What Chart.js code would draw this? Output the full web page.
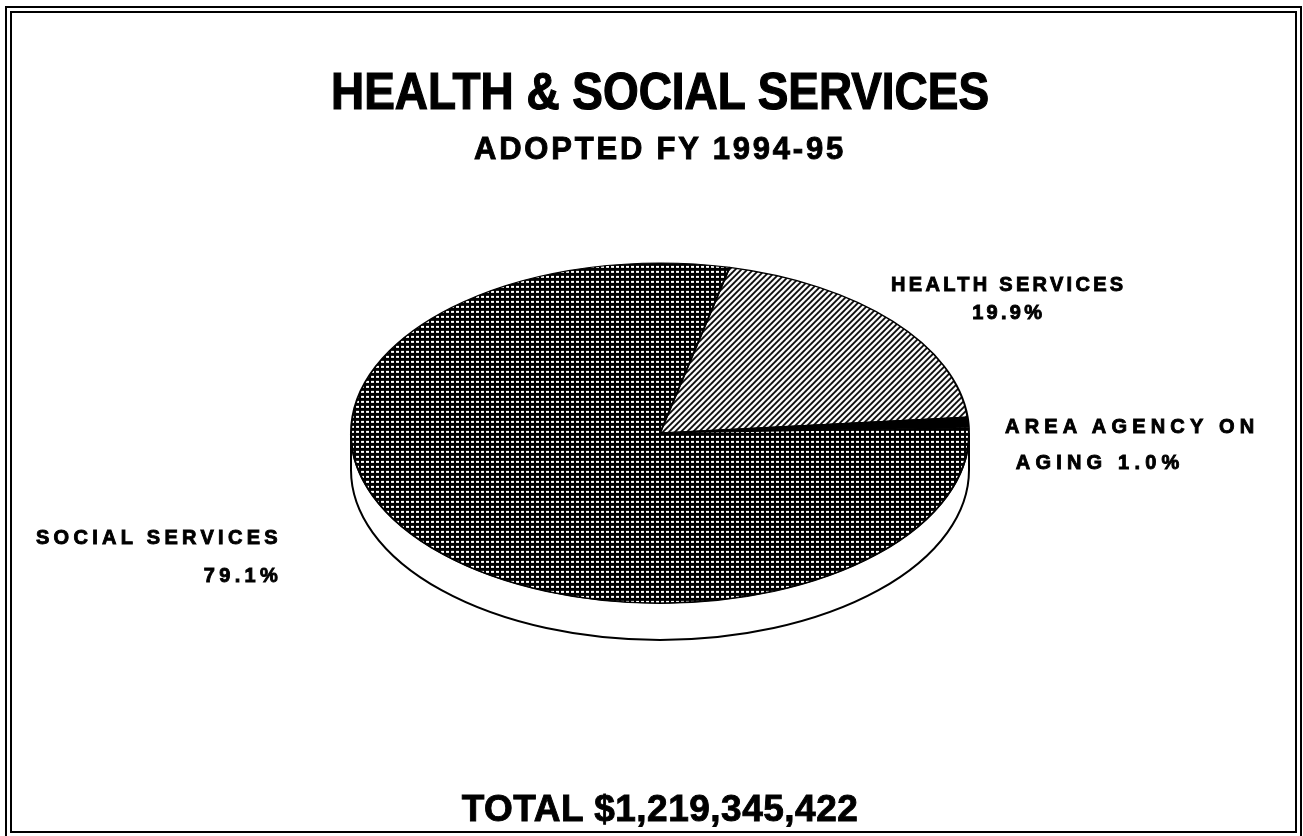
<!DOCTYPE html>
<html>
<head>
<meta charset="utf-8">
<script src="https://cdn.jsdelivr.net/npm/chart.js@4.4.1/dist/chart.umd.min.js"></script>
<style>
  body { margin: 0; background: #fff; }
  #wrap { position: relative; width: 1303px; height: 836px; overflow: hidden;
          font-family: 'Liberation Sans', Arial, sans-serif; font-weight: bold; color: #000; }
  #pie { position: absolute; left: 0; top: 0; }
  #frame { position: absolute; left: 5px; top: 6px; width: 1283px; height: 818px;
           border: 7px double #000; }
  .txt { position: absolute; white-space: nowrap; line-height: 1; -webkit-text-stroke: 0.9px #000; }
  .center { left: 0; width: 1320px; text-align: center; }
  .lbl { font-size: 20px; letter-spacing: 3.3px; }
</style>
</head>
<body>
<div id="wrap">
  <canvas id="pie" width="1303" height="836"></canvas>
  <div id="frame"></div>
  <div class="txt center" id="title" style="top:66px;font-size:51px;transform:scaleX(0.9);-webkit-text-stroke:1.2px #000;">HEALTH &amp; SOCIAL SERVICES</div>
  <div class="txt center" id="subtitle" style="top:133px;font-size:31px;letter-spacing:2.8px;">ADOPTED FY 1994-95</div>
  <div class="txt center" id="total" style="top:790px;font-size:37px;letter-spacing:0.5px;"></div>
  <div class="txt lbl" id="lblHealth" style="left:891px;top:270px;text-align:center;line-height:28px;"></div>
  <div class="txt lbl" id="lblAging" style="left:1005px;top:408px;line-height:36px;letter-spacing:5.2px;"></div>
  <div class="txt lbl" id="lblSocial" style="right:1021px;top:518px;text-align:right;line-height:38px;letter-spacing:4.3px;"></div>
</div>
<script>
// ---- data ----
const categories = ['HEALTH SERVICES', 'AREA AGENCY ON AGING', 'SOCIAL SERVICES'];
const shares = [19.9, 1.0, 79.1];
const totalAmount = 1219345422;

// ---- fill patterns ----
function makeTile(size, draw) {
  const c = document.createElement('canvas');
  c.width = size; c.height = size;
  const g = c.getContext('2d');
  draw(g, size);
  return c;
}

const gridTile = makeTile(5, (g, s) => {
  g.fillStyle = '#000';
  g.fillRect(0, 0, s, s);
  g.fillStyle = '#fff';
  g.fillRect(1, 1, 3, 2);
});

const hatchTile = makeTile(6, (g, s) => {
  g.fillStyle = '#fff';
  g.fillRect(0, 0, s, s);
  g.strokeStyle = '#000';
  g.lineWidth = 1.8;
  g.beginPath();
  g.moveTo(-1, s + 1); g.lineTo(s + 1, -1);
  g.moveTo(-1, 1); g.lineTo(1, -1);
  g.moveTo(s - 1, s + 1); g.lineTo(s + 1, s - 1);
  g.stroke();
});

const ctx = document.getElementById('pie').getContext('2d');
const gridPattern = ctx.createPattern(gridTile, 'repeat');
const hatchPattern = ctx.createPattern(hatchTile, 'repeat');

// ---- 3D ellipse effect: squash the pie vertically and draw a side wall ----
const tilt = 0.55;     // ry / rx
const depth = 37;      // wall height in px

const ellipsePie = {
  id: 'ellipsePie',
  beforeDatasetsDraw(chart) {
    const arc = chart.getDatasetMeta(0).data[0];
    if (!arc) return;
    const c = chart.ctx;
    const cx = arc.x, cy = arc.y, rx = arc.outerRadius, ry = rx * tilt;

    // side wall (front half)
    c.save();
    c.beginPath();
    c.ellipse(cx, cy, rx, ry, 0, 0, Math.PI, false);
    c.lineTo(cx - rx, cy + depth);
    c.ellipse(cx, cy + depth, rx, ry, 0, Math.PI, 0, true);
    c.closePath();
    c.fillStyle = '#fff';
    c.fill();
    c.lineWidth = 2;
    c.strokeStyle = '#000';
    c.stroke();
    c.restore();

    // squash the top face
    c.save();
    c.translate(cx, cy);
    c.scale(1, tilt);
    c.translate(-cx, -cy);
    const m = new DOMMatrix().scale(1, 1 / tilt);
    gridPattern.setTransform(m);
    hatchPattern.setTransform(m);
  },
  afterDatasetsDraw(chart) {
    chart.ctx.restore();
  }
};

new Chart(ctx, {
  type: 'pie',
  data: {
    labels: categories,
    datasets: [{
      data: shares,
      backgroundColor: [hatchPattern, '#000', gridPattern],
      borderColor: '#000',
      borderWidth: 2
    }]
  },
  options: {
    responsive: false,
    animation: false,
    events: [],
    rotation: 13,
    layout: { padding: { left: 350, right: 333, top: 123, bottom: 93 } },
    plugins: {
      legend: { display: false },
      tooltip: { enabled: false }
    }
  },
  plugins: [ellipsePie]
});

// ---- slice labels ----
const pct = v => v.toFixed(1) + '%';
document.getElementById('lblHealth').innerHTML = categories[0] + '<br>' + pct(shares[0]);
document.getElementById('lblAging').innerHTML = 'AREA AGENCY ON<br>&nbsp;AGING ' + pct(shares[1]);
document.getElementById('lblSocial').innerHTML = categories[2] + '<br>' + pct(shares[2]);
document.getElementById('total').textContent = 'TOTAL $' + totalAmount.toLocaleString('en-US');
</script>
</body>
</html>
